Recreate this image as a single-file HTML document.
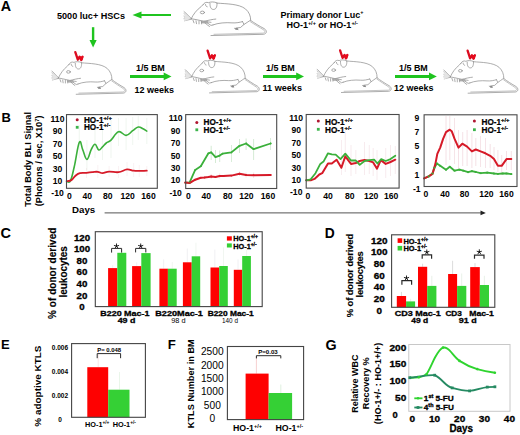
<!DOCTYPE html>
<html><head><meta charset="utf-8"><style>
html,body{margin:0;padding:0;background:#fff;}
svg{display:block;}
text{font-family:"Liberation Sans", sans-serif;}
</style></head><body>
<svg width="520" height="435" viewBox="0 0 520 435" font-family='"Liberation Sans", sans-serif'>
<rect width="520" height="435" fill="#fff"/>
<text x="0.8" y="10.9" font-size="14.3" font-weight="bold" text-anchor="start" fill="#000" >A</text>
<text x="57" y="18.9" font-size="9.1" font-weight="bold" text-anchor="start" fill="#000" textLength="68" lengthAdjust="spacingAndGlyphs" >5000 luc+ HSCs</text>
<line x1="171" y1="15" x2="139" y2="15" stroke="#1fc41f" stroke-width="2" />
<polygon points="132.5,15 141.5,11.5 141.5,18.5" fill="#1fc41f"/>
<line x1="93.1" y1="27.2" x2="93.1" y2="41.5" stroke="#1fc41f" stroke-width="2.4" />
<polygon points="93.1,47.6 89.5,40.0 96.7,40.0" fill="#1fc41f"/>
<text x="280.5" y="17.6" font-size="9" font-weight="bold" text-anchor="start" fill="#000" textLength="83" lengthAdjust="spacingAndGlyphs" >Primary donor Luc<tspan font-size="5.5" dy="-3.5">+</tspan></text>
<text x="286.4" y="28.3" font-size="9" font-weight="bold" text-anchor="start" fill="#000" >HO-1<tspan font-size="5.5" dy="-3.5">+/+</tspan><tspan dy="3.5"> or HO-1</tspan><tspan font-size="5.5" dy="-3.5">+/-</tspan></text>
<defs><g id="mouse">
<g fill="none" stroke="#8c8c8c" stroke-width="0.75" stroke-linecap="round" stroke-linejoin="round">
<path d="M0,11 L7,17.5 M0,13 L7,17.8 M0,15.5 L7,18 M0,18 L7,18.2 M0.5,20 L7,18.5 M1,12 L7,17.6 M0.5,17 L7,18" stroke="#b0b0b0" stroke-width="0.9"/>
<path d="M7.2,18 C9,14 13,9 17.2,6.2 L19,4.3"/>
<path d="M19,4.5 C20,2.2 22.5,1.6 24.5,2.4 C26.5,1.5 30,1.3 33,2.6"/>
<path d="M26,3.2 C25.8,6.5 27,9 29.5,9 C31.8,9 33.2,6.8 33,3.2"/>
<path d="M21.5,4.2 C21.5,5.5 22.2,6.2 23.2,6.4"/>
<path d="M33,2.8 C42,3.6 55,3.4 61.5,8.5 C65,11.5 66.7,15 66.7,19.5"/>
<ellipse cx="18.4" cy="11.9" rx="2.1" ry="1.3"/>
<path d="M7.2,18 L12,18.8 L20,20.5 L27,21.5 M20,20.5 C24,19.5 29,18.5 31.8,18.3"/>
<path d="M17.5,20.3 L23.5,20.6 L24,22.4 L18,22.2 Z" fill="#b0b0b0" stroke="#999" stroke-width="0.5"/>
<path d="M0.5,12 L7,17.6 L0.3,20.5 Z" fill="#e4e4e4" stroke="none"/>
<path d="M9,19.5 L10,22 M12,20 L12.5,22.8 M15,20.4 L15,23 M17.5,20.8 L17.6,23"/>
<path d="M21,22 C22.5,23.5 24,24.5 25.5,25.5 M24,22.5 L27,24.5 L29,24"/>
<path d="M29,24 C34,22 42,21.5 48,22 C52,22.3 56,21.5 58.5,20.8"/>
<path d="M58.5,20.8 L60,23.5 L56.5,26.5 L52,27 M50.5,27.3 L54,28.5"/>
<path d="M60,23.5 C62,22 64.5,21 66.4,19.5 C70,22 76,25.5 80.2,27.6 C83.2,29.4 83,32.6 79.5,33.1 L27,34.3"/>
<path d="M66.4,20.9 C70,23.2 75.5,26.4 79.3,28.6 C81.4,29.9 81.3,31.8 78.8,32.0 L30,33.1" stroke="#aaa"/>
</g>
<ellipse cx="52.7" cy="27.9" rx="1.6" ry="0.9" fill="#888"/>
</g></defs>
<use href="#mouse" transform="translate(184,0.2) scale(1,1.03)"/>
<use href="#mouse" transform="translate(51.9,60.0) scale(0.9,1)"/>
<use href="#mouse" transform="translate(185.2,58.6) scale(0.9,1)"/>
<use href="#mouse" transform="translate(317.1,58.2) scale(0.9,1)"/>
<use href="#mouse" transform="translate(443.8,58.9) scale(0.9,1)"/>
<polyline points="75.3,52.1 77.8,59.7 79.6,56.7 81.2,60.1 82.6,56.7" fill="none" stroke="#dc0c20" stroke-width="2.3" stroke-linejoin="round" stroke-linecap="round" />
<polygon points="79.2,56.5 82.9,56.3 82.6,60.3 80.6,60.1" fill="#e80a1c"/>
<polyline points="207.6,50.7 210.1,58.3 211.9,55.3 213.5,58.7 214.9,55.3" fill="none" stroke="#dc0c20" stroke-width="2.3" stroke-linejoin="round" stroke-linecap="round" />
<polygon points="211.5,55.1 215.20000000000002,54.9 214.9,58.900000000000006 212.9,58.7" fill="#e80a1c"/>
<polyline points="340.1,50.4 342.6,58.0 344.4,55.0 346.0,58.4 347.4,55.0" fill="none" stroke="#dc0c20" stroke-width="2.3" stroke-linejoin="round" stroke-linecap="round" />
<polygon points="344.0,54.8 347.7,54.599999999999994 347.40000000000003,58.599999999999994 345.40000000000003,58.4" fill="#e80a1c"/>
<polyline points="467.6,50.7 470.1,58.3 471.9,55.3 473.5,58.7 474.9,55.3" fill="none" stroke="#dc0c20" stroke-width="2.3" stroke-linejoin="round" stroke-linecap="round" />
<polygon points="471.5,55.1 475.2,54.9 474.90000000000003,58.900000000000006 472.90000000000003,58.7" fill="#e80a1c"/>
<line x1="130" y1="76.4" x2="164.5" y2="76.4" stroke="#1fc41f" stroke-width="3" />
<polygon points="171.5,76.4 163.7,72.60000000000001 163.7,80.2" fill="#1fc41f"/>
<text x="136" y="70.5" font-size="9.2" font-weight="bold" text-anchor="start" fill="#000" textLength="28.8" lengthAdjust="spacingAndGlyphs" >1/5 BM</text>
<text x="134.4" y="93.0" font-size="9.2" font-weight="bold" text-anchor="start" fill="#000" textLength="39.5" lengthAdjust="spacingAndGlyphs" >12 weeks</text>
<line x1="263" y1="76.4" x2="297" y2="76.4" stroke="#1fc41f" stroke-width="3" />
<polygon points="304,76.4 296.2,72.60000000000001 296.2,80.2" fill="#1fc41f"/>
<text x="266" y="70.5" font-size="9.2" font-weight="bold" text-anchor="start" fill="#000" textLength="28.8" lengthAdjust="spacingAndGlyphs" >1/5 BM</text>
<text x="262.5" y="91.4" font-size="9.2" font-weight="bold" text-anchor="start" fill="#000" textLength="39.5" lengthAdjust="spacingAndGlyphs" >11 weeks</text>
<line x1="395" y1="76.4" x2="429.8" y2="76.4" stroke="#1fc41f" stroke-width="3" />
<polygon points="436.8,76.4 429.0,72.60000000000001 429.0,80.2" fill="#1fc41f"/>
<text x="399" y="70.5" font-size="9.2" font-weight="bold" text-anchor="start" fill="#000" textLength="28.8" lengthAdjust="spacingAndGlyphs" >1/5 BM</text>
<text x="394" y="91.4" font-size="9.2" font-weight="bold" text-anchor="start" fill="#000" textLength="39.5" lengthAdjust="spacingAndGlyphs" >12 weeks</text>
<text x="1.5" y="121.9" font-size="13" font-weight="bold" text-anchor="start" fill="#000" >B</text>
<text transform="translate(31.0,206.8) rotate(-90)" x="0" y="0" font-size="9.2" font-weight="bold" text-anchor="start" fill="#000"  textLength="94.8" lengthAdjust="spacingAndGlyphs">Total Body BLI Signal</text>
<text transform="translate(42.2,206.2) rotate(-90)" x="0" y="0" font-size="9.2" font-weight="bold" text-anchor="start" fill="#000"  textLength="90.7" lengthAdjust="spacingAndGlyphs">(Photons / sec, X10<tspan font-size="5.8" dy="-3.2">7</tspan><tspan dy="3.2">)</tspan></text>
<text x="57.5" y="121.7" font-size="8.6" font-weight="bold" text-anchor="middle" fill="#000" >110</text>
<text x="57.5" y="134.15" font-size="8.6" font-weight="bold" text-anchor="middle" fill="#000" >90</text>
<text x="57.5" y="146.6" font-size="8.6" font-weight="bold" text-anchor="middle" fill="#000" >70</text>
<text x="57.5" y="159.05" font-size="8.6" font-weight="bold" text-anchor="middle" fill="#000" >50</text>
<text x="57.5" y="171.5" font-size="8.6" font-weight="bold" text-anchor="middle" fill="#000" >30</text>
<text x="57.5" y="183.95" font-size="8.6" font-weight="bold" text-anchor="middle" fill="#000" >10</text>
<text x="57.5" y="196.4" font-size="8.6" font-weight="bold" text-anchor="middle" fill="#000" >-10</text>
<text x="69.4" y="198.6" font-size="8.6" font-weight="bold" text-anchor="middle" fill="#000" >0</text>
<text x="87.2" y="198.6" font-size="8.6" font-weight="bold" text-anchor="middle" fill="#000" >40</text>
<text x="107.8" y="198.6" font-size="8.6" font-weight="bold" text-anchor="middle" fill="#000" >80</text>
<text x="127.7" y="198.6" font-size="8.6" font-weight="bold" text-anchor="middle" fill="#000" >120</text>
<text x="148.5" y="198.6" font-size="8.6" font-weight="bold" text-anchor="middle" fill="#000" >160</text>
<text x="175.6" y="121.2" font-size="8.6" font-weight="bold" text-anchor="middle" fill="#000" >110</text>
<text x="175.6" y="133.65" font-size="8.6" font-weight="bold" text-anchor="middle" fill="#000" >90</text>
<text x="175.6" y="146.1" font-size="8.6" font-weight="bold" text-anchor="middle" fill="#000" >70</text>
<text x="175.6" y="158.55" font-size="8.6" font-weight="bold" text-anchor="middle" fill="#000" >50</text>
<text x="175.6" y="171.0" font-size="8.6" font-weight="bold" text-anchor="middle" fill="#000" >30</text>
<text x="175.6" y="183.45" font-size="8.6" font-weight="bold" text-anchor="middle" fill="#000" >10</text>
<text x="175.6" y="195.9" font-size="8.6" font-weight="bold" text-anchor="middle" fill="#000" >-10</text>
<text x="188.4" y="198.6" font-size="8.6" font-weight="bold" text-anchor="middle" fill="#000" >0</text>
<text x="206.3" y="198.6" font-size="8.6" font-weight="bold" text-anchor="middle" fill="#000" >40</text>
<text x="227.8" y="198.6" font-size="8.6" font-weight="bold" text-anchor="middle" fill="#000" >80</text>
<text x="246.4" y="198.6" font-size="8.6" font-weight="bold" text-anchor="middle" fill="#000" >120</text>
<text x="268" y="198.6" font-size="8.6" font-weight="bold" text-anchor="middle" fill="#000" >160</text>
<text x="296.2" y="120.7" font-size="8.6" font-weight="bold" text-anchor="middle" fill="#000" >110</text>
<text x="296.2" y="133.15" font-size="8.6" font-weight="bold" text-anchor="middle" fill="#000" >90</text>
<text x="296.2" y="145.6" font-size="8.6" font-weight="bold" text-anchor="middle" fill="#000" >70</text>
<text x="296.2" y="158.05" font-size="8.6" font-weight="bold" text-anchor="middle" fill="#000" >50</text>
<text x="296.2" y="170.5" font-size="8.6" font-weight="bold" text-anchor="middle" fill="#000" >30</text>
<text x="296.2" y="182.95" font-size="8.6" font-weight="bold" text-anchor="middle" fill="#000" >10</text>
<text x="296.2" y="195.4" font-size="8.6" font-weight="bold" text-anchor="middle" fill="#000" >-10</text>
<text x="307.9" y="198.6" font-size="8.6" font-weight="bold" text-anchor="middle" fill="#000" >0</text>
<text x="328.1" y="198.6" font-size="8.6" font-weight="bold" text-anchor="middle" fill="#000" >40</text>
<text x="349.7" y="198.6" font-size="8.6" font-weight="bold" text-anchor="middle" fill="#000" >80</text>
<text x="371.2" y="198.6" font-size="8.6" font-weight="bold" text-anchor="middle" fill="#000" >120</text>
<text x="391.1" y="198.6" font-size="8.6" font-weight="bold" text-anchor="middle" fill="#000" >160</text>
<text x="416.8" y="120.7" font-size="8.6" font-weight="bold" text-anchor="middle" fill="#000" >9</text>
<text x="416.8" y="135.0" font-size="8.6" font-weight="bold" text-anchor="middle" fill="#000" >7</text>
<text x="416.8" y="149.3" font-size="8.6" font-weight="bold" text-anchor="middle" fill="#000" >5</text>
<text x="416.8" y="163.6" font-size="8.6" font-weight="bold" text-anchor="middle" fill="#000" >3</text>
<text x="416.8" y="177.9" font-size="8.6" font-weight="bold" text-anchor="middle" fill="#000" >1</text>
<text x="416.8" y="192.2" font-size="8.6" font-weight="bold" text-anchor="middle" fill="#000" >-1</text>
<text x="425.9" y="196.9" font-size="8.6" font-weight="bold" text-anchor="middle" fill="#000" >0</text>
<text x="445" y="196.9" font-size="8.6" font-weight="bold" text-anchor="middle" fill="#000" >40</text>
<text x="464.5" y="196.9" font-size="8.6" font-weight="bold" text-anchor="middle" fill="#000" >80</text>
<text x="486.4" y="196.9" font-size="8.6" font-weight="bold" text-anchor="middle" fill="#000" >120</text>
<text x="506.5" y="196.9" font-size="8.6" font-weight="bold" text-anchor="middle" fill="#000" >160</text>
<line x1="79.3" y1="125" x2="79.3" y2="158" stroke="#a0c8a0" stroke-width="0.8" opacity="0.19"/>
<line x1="86.9" y1="140" x2="86.9" y2="170" stroke="#a0c8a0" stroke-width="0.8" opacity="0.19"/>
<line x1="95" y1="128" x2="95" y2="158" stroke="#a0c8a0" stroke-width="0.8" opacity="0.19"/>
<line x1="102.5" y1="130" x2="102.5" y2="160" stroke="#a0c8a0" stroke-width="0.8" opacity="0.19"/>
<line x1="111" y1="120" x2="111" y2="158" stroke="#a0c8a0" stroke-width="0.8" opacity="0.19"/>
<line x1="118.5" y1="118" x2="118.5" y2="146" stroke="#a0c8a0" stroke-width="0.8" opacity="0.19"/>
<line x1="126.1" y1="118" x2="126.1" y2="150" stroke="#a0c8a0" stroke-width="0.8" opacity="0.19"/>
<line x1="132.7" y1="117" x2="132.7" y2="145" stroke="#a0c8a0" stroke-width="0.8" opacity="0.19"/>
<line x1="138.3" y1="116" x2="138.3" y2="140" stroke="#a0c8a0" stroke-width="0.8" opacity="0.19"/>
<line x1="146.8" y1="118" x2="146.8" y2="144" stroke="#a0c8a0" stroke-width="0.8" opacity="0.19"/>
<line x1="86.5" y1="168" x2="86.5" y2="178" stroke="#e0b0b8" stroke-width="0.8" opacity="0.19"/>
<line x1="97.8" y1="165" x2="97.8" y2="178" stroke="#e0b0b8" stroke-width="0.8" opacity="0.19"/>
<line x1="109.1" y1="166" x2="109.1" y2="177" stroke="#e0b0b8" stroke-width="0.8" opacity="0.19"/>
<line x1="118.5" y1="166" x2="118.5" y2="178" stroke="#e0b0b8" stroke-width="0.8" opacity="0.19"/>
<line x1="127" y1="162" x2="127" y2="176" stroke="#e0b0b8" stroke-width="0.8" opacity="0.19"/>
<line x1="133.6" y1="163" x2="133.6" y2="177" stroke="#e0b0b8" stroke-width="0.8" opacity="0.19"/>
<line x1="139.3" y1="165" x2="139.3" y2="177" stroke="#e0b0b8" stroke-width="0.8" opacity="0.19"/>
<line x1="146.8" y1="166" x2="146.8" y2="176" stroke="#e0b0b8" stroke-width="0.8" opacity="0.19"/>
<path d="M66.7,181.6 C67.5,181.4 69.0,183.7 70.5,180.7 C72.0,177.7 72.5,174.2 74.3,166.5 C76.1,158.8 77.6,145.8 79.3,142.4 C81.0,139.0 81.2,146.2 82.7,149.6 C84.2,153.0 85.2,159.4 86.9,159.4 C88.6,159.4 89.6,152.6 91.2,149.6 C92.8,146.6 93.5,144.2 95.0,144.3 C96.5,144.4 97.3,149.5 98.8,150.0 C100.3,150.5 101.0,148.2 102.5,146.8 C104.0,145.4 104.6,144.3 106.3,143.0 C108.0,141.7 108.6,142.5 111.0,140.2 C113.4,137.9 115.5,132.7 118.5,131.7 C121.5,130.7 123.3,135.6 126.1,135.4 C128.9,135.2 130.3,132.4 132.7,130.7 C135.1,129.0 136.2,127.4 138.3,127.0 C140.4,126.6 141.3,128.0 143.0,128.8 C144.7,129.6 146.0,130.6 146.8,131.1" fill="none" stroke="#3bb03b" stroke-width="1.6" stroke-linejoin="round" stroke-linecap="round" />
<path d="M66.7,181.2 C67.6,181.0 69.7,181.1 71.4,180.1 C73.1,179.1 73.5,177.4 75.2,176.0 C76.9,174.6 77.6,173.7 79.9,173.1 C82.2,172.5 84.0,173.0 86.5,172.8 C89.0,172.6 89.9,172.4 92.2,172.2 C94.5,172.0 95.7,171.6 97.8,171.8 C99.9,172.0 100.2,173.1 102.5,173.1 C104.8,173.1 105.9,171.8 109.1,171.6 C112.3,171.4 114.9,172.6 118.5,172.2 C122.1,171.8 124.0,169.7 127.0,169.4 C130.0,169.1 131.1,170.4 133.6,170.7 C136.1,171.0 136.7,170.9 139.3,170.9 C141.9,170.9 145.3,170.7 146.8,170.7" fill="none" stroke="#d61a28" stroke-width="1.8" stroke-linejoin="round" stroke-linecap="round" />
<line x1="211.2" y1="145.8" x2="211.2" y2="160" stroke="#88c888" stroke-width="0.8" opacity="0.44"/>
<line x1="215.5" y1="150" x2="215.5" y2="163" stroke="#88c888" stroke-width="0.8" opacity="0.44"/>
<line x1="219.7" y1="150.5" x2="219.7" y2="162" stroke="#88c888" stroke-width="0.8" opacity="0.44"/>
<line x1="231.4" y1="145" x2="231.4" y2="162" stroke="#88c888" stroke-width="0.8" opacity="0.44"/>
<line x1="239.5" y1="139" x2="239.5" y2="153" stroke="#88c888" stroke-width="0.8" opacity="0.44"/>
<line x1="246.1" y1="138.5" x2="246.1" y2="150" stroke="#88c888" stroke-width="0.8" opacity="0.44"/>
<line x1="253.6" y1="139" x2="253.6" y2="160" stroke="#88c888" stroke-width="0.8" opacity="0.44"/>
<line x1="270.6" y1="138" x2="270.6" y2="150" stroke="#88c888" stroke-width="0.8" opacity="0.44"/>
<line x1="211.2" y1="174" x2="211.2" y2="179" stroke="#e08080" stroke-width="0.8" opacity="0.28"/>
<line x1="219.7" y1="173.5" x2="219.7" y2="178.5" stroke="#e08080" stroke-width="0.8" opacity="0.28"/>
<line x1="239.5" y1="171.5" x2="239.5" y2="176" stroke="#e08080" stroke-width="0.8" opacity="0.28"/>
<line x1="246.1" y1="172.5" x2="246.1" y2="177.5" stroke="#e08080" stroke-width="0.8" opacity="0.28"/>
<line x1="253.6" y1="172.5" x2="253.6" y2="178" stroke="#e08080" stroke-width="0.8" opacity="0.28"/>
<polyline points="185.2,182.6 189.5,182.6 195.2,169.9 200.8,166.2 208.4,153.3 211.2,152.4 215.5,157.1 219.7,155.6 222.5,153.7 231.4,152.4 239.5,145.8 246.1,143.5 253.6,149.2 270.6,143.5" fill="none" stroke="#3bb03b" stroke-width="1.8" stroke-linejoin="round" stroke-linecap="round" />
<polyline points="185.2,182.6 189.5,183.1 195.2,179.7 200.8,177.8 204.6,177.5 208.4,177.1 211.2,176.5 215.5,176.9 219.7,176.0 223.5,176.0 231.4,175.6 239.5,173.7 246.1,175.0 253.6,175.2 270.6,175.0" fill="none" stroke="#d61a28" stroke-width="2.0" stroke-linejoin="round" stroke-linecap="round" />
<circle cx="189.5" cy="182.6" r="0.9" fill="#3bb03b"/>
<circle cx="195.2" cy="169.9" r="0.9" fill="#3bb03b"/>
<circle cx="200.8" cy="166.2" r="0.9" fill="#3bb03b"/>
<circle cx="208.4" cy="153.3" r="0.9" fill="#3bb03b"/>
<circle cx="211.2" cy="152.4" r="0.9" fill="#3bb03b"/>
<circle cx="215.5" cy="157.1" r="0.9" fill="#3bb03b"/>
<circle cx="219.7" cy="155.6" r="0.9" fill="#3bb03b"/>
<circle cx="222.5" cy="153.7" r="0.9" fill="#3bb03b"/>
<circle cx="231.4" cy="152.4" r="0.9" fill="#3bb03b"/>
<circle cx="239.5" cy="145.8" r="0.9" fill="#3bb03b"/>
<circle cx="246.1" cy="143.5" r="0.9" fill="#3bb03b"/>
<circle cx="253.6" cy="149.2" r="0.9" fill="#3bb03b"/>
<circle cx="270.6" cy="143.5" r="0.9" fill="#3bb03b"/>
<circle cx="189.5" cy="183.1" r="0.9" fill="#d61a28"/>
<circle cx="195.2" cy="179.7" r="0.9" fill="#d61a28"/>
<circle cx="200.8" cy="177.8" r="0.9" fill="#d61a28"/>
<circle cx="204.6" cy="177.5" r="0.9" fill="#d61a28"/>
<circle cx="208.4" cy="177.1" r="0.9" fill="#d61a28"/>
<circle cx="211.2" cy="176.5" r="0.9" fill="#d61a28"/>
<circle cx="215.5" cy="176.9" r="0.9" fill="#d61a28"/>
<circle cx="219.7" cy="176" r="0.9" fill="#d61a28"/>
<circle cx="223.5" cy="176" r="0.9" fill="#d61a28"/>
<circle cx="231.4" cy="175.6" r="0.9" fill="#d61a28"/>
<circle cx="239.5" cy="173.7" r="0.9" fill="#d61a28"/>
<circle cx="246.1" cy="175" r="0.9" fill="#d61a28"/>
<circle cx="253.6" cy="175.2" r="0.9" fill="#d61a28"/>
<circle cx="270.6" cy="175" r="0.9" fill="#d61a28"/>
<line x1="341.4" y1="140" x2="341.4" y2="175" stroke="#e0a8b8" stroke-width="0.8" opacity="0.28"/>
<line x1="345.3" y1="130" x2="345.3" y2="172" stroke="#e0a8b8" stroke-width="0.8" opacity="0.28"/>
<line x1="351" y1="145" x2="351" y2="176" stroke="#e0a8b8" stroke-width="0.8" opacity="0.28"/>
<line x1="355.8" y1="150" x2="355.8" y2="174" stroke="#e0a8b8" stroke-width="0.8" opacity="0.28"/>
<line x1="364.5" y1="142" x2="364.5" y2="175" stroke="#e0a8b8" stroke-width="0.8" opacity="0.28"/>
<line x1="369.3" y1="145" x2="369.3" y2="174" stroke="#e0a8b8" stroke-width="0.8" opacity="0.28"/>
<line x1="373.2" y1="148" x2="373.2" y2="176" stroke="#e0a8b8" stroke-width="0.8" opacity="0.28"/>
<line x1="377" y1="150" x2="377" y2="180" stroke="#e0a8b8" stroke-width="0.8" opacity="0.28"/>
<line x1="385.7" y1="148" x2="385.7" y2="178" stroke="#e0a8b8" stroke-width="0.8" opacity="0.28"/>
<line x1="390.5" y1="145" x2="390.5" y2="176" stroke="#e0a8b8" stroke-width="0.8" opacity="0.28"/>
<line x1="395.3" y1="146" x2="395.3" y2="174" stroke="#e0a8b8" stroke-width="0.8" opacity="0.28"/>
<polyline points="306.2,180.3 310.7,180.3 314.5,178.9 319.3,174.5 322.2,173.2 328.0,163.5 331.8,163.5 336.6,159.7 341.4,167.8 345.3,156.3 351.0,163.9 355.8,163.0 359.7,161.0 364.5,160.1 369.3,161.0 373.2,162.4 377.0,168.7 380.8,160.1 385.7,163.9 390.5,162.0 395.3,159.7" fill="none" stroke="#d61a28" stroke-width="2.0" stroke-linejoin="round" stroke-linecap="round" />
<polyline points="306.2,180.3 310.7,179.3 315.5,173.2 320.3,163.9 323.5,161.6 328.0,153.3 331.8,154.3 335.7,154.7 340.5,159.1 345.3,153.6 351.0,160.5 355.8,160.5 359.7,164.9 364.5,161.0 369.3,160.1 374.1,159.7 377.4,163.5 381.2,159.1 385.7,161.0 390.5,159.1 395.3,155.8" fill="none" stroke="#3bb03b" stroke-width="1.8" stroke-linejoin="round" stroke-linecap="round" />
<line x1="446" y1="116" x2="446" y2="165" stroke="#e0a0b0" stroke-width="0.8" opacity="0.39"/>
<line x1="449.8" y1="116" x2="449.8" y2="160" stroke="#e0a0b0" stroke-width="0.8" opacity="0.39"/>
<line x1="454.6" y1="118" x2="454.6" y2="164" stroke="#e0a0b0" stroke-width="0.8" opacity="0.39"/>
<line x1="458.5" y1="130" x2="458.5" y2="170" stroke="#e0a0b0" stroke-width="0.8" opacity="0.39"/>
<line x1="462.7" y1="132" x2="462.7" y2="166" stroke="#e0a0b0" stroke-width="0.8" opacity="0.39"/>
<line x1="467.1" y1="130" x2="467.1" y2="166" stroke="#e0a0b0" stroke-width="0.8" opacity="0.39"/>
<line x1="471.9" y1="133" x2="471.9" y2="168" stroke="#e0a0b0" stroke-width="0.8" opacity="0.39"/>
<line x1="475.8" y1="138" x2="475.8" y2="166" stroke="#e0a0b0" stroke-width="0.8" opacity="0.39"/>
<line x1="480.6" y1="136" x2="480.6" y2="167" stroke="#e0a0b0" stroke-width="0.8" opacity="0.39"/>
<line x1="485.4" y1="138" x2="485.4" y2="168" stroke="#e0a0b0" stroke-width="0.8" opacity="0.39"/>
<line x1="490.2" y1="144" x2="490.2" y2="168" stroke="#e0a0b0" stroke-width="0.8" opacity="0.39"/>
<line x1="494" y1="147" x2="494" y2="170" stroke="#e0a0b0" stroke-width="0.8" opacity="0.39"/>
<line x1="497.9" y1="150" x2="497.9" y2="172" stroke="#e0a0b0" stroke-width="0.8" opacity="0.39"/>
<line x1="501.7" y1="155" x2="501.7" y2="175" stroke="#e0a0b0" stroke-width="0.8" opacity="0.39"/>
<line x1="506.5" y1="151" x2="506.5" y2="170" stroke="#e0a0b0" stroke-width="0.8" opacity="0.39"/>
<line x1="511.3" y1="151" x2="511.3" y2="170" stroke="#e0a0b0" stroke-width="0.8" opacity="0.39"/>
<polyline points="424.2,178.3 428.7,176.4 432.5,173.5 434.4,167.8 436.9,163.5 440.2,165.8 446.0,169.7 449.8,166.8 454.6,170.7 459.4,169.7 463.3,170.7 468.1,172.2 471.9,171.2 475.8,172.0 480.6,173.2 487.3,172.6 494.0,173.5 497.9,173.9 502.7,173.5 506.5,173.5 511.3,174.1" fill="none" stroke="#3bb03b" stroke-width="1.8" stroke-linejoin="round" stroke-linecap="round" />
<polyline points="424.2,178.3 428.7,176.4 432.5,173.9 435.4,163.9 437.3,153.9 440.2,147.6 443.1,138.9 446.0,132.2 449.8,129.7 451.7,131.2 454.6,138.9 458.5,147.6 462.3,143.7 467.1,146.6 471.9,151.4 475.8,149.5 480.6,151.4 485.4,153.3 490.2,155.8 494.0,159.1 497.9,165.8 501.7,165.8 506.5,159.1 511.3,159.1" fill="none" stroke="#d61a28" stroke-width="2.0" stroke-linejoin="round" stroke-linecap="round" />
<rect x="427.8" y="175.5" width="1.8" height="1.8" fill="#3bb03b"/>
<rect x="431.6" y="172.6" width="1.8" height="1.8" fill="#3bb03b"/>
<rect x="433.5" y="166.9" width="1.8" height="1.8" fill="#3bb03b"/>
<rect x="436.0" y="162.6" width="1.8" height="1.8" fill="#3bb03b"/>
<rect x="439.3" y="164.9" width="1.8" height="1.8" fill="#3bb03b"/>
<rect x="445.1" y="168.79999999999998" width="1.8" height="1.8" fill="#3bb03b"/>
<rect x="448.90000000000003" y="165.9" width="1.8" height="1.8" fill="#3bb03b"/>
<rect x="453.70000000000005" y="169.79999999999998" width="1.8" height="1.8" fill="#3bb03b"/>
<rect x="458.5" y="168.79999999999998" width="1.8" height="1.8" fill="#3bb03b"/>
<rect x="462.40000000000003" y="169.79999999999998" width="1.8" height="1.8" fill="#3bb03b"/>
<rect x="467.20000000000005" y="171.29999999999998" width="1.8" height="1.8" fill="#3bb03b"/>
<rect x="471.0" y="170.29999999999998" width="1.8" height="1.8" fill="#3bb03b"/>
<rect x="474.90000000000003" y="171.1" width="1.8" height="1.8" fill="#3bb03b"/>
<rect x="479.70000000000005" y="172.29999999999998" width="1.8" height="1.8" fill="#3bb03b"/>
<rect x="486.40000000000003" y="171.7" width="1.8" height="1.8" fill="#3bb03b"/>
<rect x="493.1" y="172.6" width="1.8" height="1.8" fill="#3bb03b"/>
<rect x="497.0" y="173.0" width="1.8" height="1.8" fill="#3bb03b"/>
<rect x="501.8" y="172.6" width="1.8" height="1.8" fill="#3bb03b"/>
<rect x="505.6" y="172.6" width="1.8" height="1.8" fill="#3bb03b"/>
<rect x="510.40000000000003" y="173.2" width="1.8" height="1.8" fill="#3bb03b"/>
<rect x="66.5" y="114.6" width="90.80000000000001" height="73.70000000000002" fill="none" stroke="#4a4a4a" stroke-width="1.1"/>
<circle cx="77.2" cy="119.7" r="1.5" fill="#b01530"/>
<rect x="75.8" y="125.89999999999999" width="2.8" height="2.8" fill="#3cb44c" />
<text x="83.9" y="122.6" font-size="8.2" font-weight="bold" text-anchor="start" fill="#000" stroke="#000" stroke-width="0.2">HO-1<tspan font-size="5.8" dy="-3.0">+/+</tspan></text>
<text x="83.9" y="129.8" font-size="8.2" font-weight="bold" text-anchor="start" fill="#000" stroke="#000" stroke-width="0.2">HO-1<tspan font-size="5.8" dy="-3.0">+/-</tspan></text>
<rect x="185.7" y="114.6" width="91.0" height="73.9" fill="none" stroke="#4a4a4a" stroke-width="1.1"/>
<circle cx="196.8" cy="122.4" r="1.5" fill="#b01530"/>
<rect x="195.4" y="128.4" width="2.8" height="2.8" fill="#3cb44c" />
<text x="203.5" y="125.0" font-size="8.2" font-weight="bold" text-anchor="start" fill="#000" stroke="#000" stroke-width="0.2">HO-1<tspan font-size="5.8" dy="-3.0">+/+</tspan></text>
<text x="203.5" y="132.7" font-size="8.2" font-weight="bold" text-anchor="start" fill="#000" stroke="#000" stroke-width="0.2">HO-1<tspan font-size="5.8" dy="-3.0">+/-</tspan></text>
<rect x="306.2" y="114.5" width="92.90000000000003" height="73.6" fill="none" stroke="#4a4a4a" stroke-width="1.1"/>
<circle cx="318.3" cy="121.1" r="1.5" fill="#b01530"/>
<rect x="316.90000000000003" y="127.9" width="2.8" height="2.8" fill="#3cb44c" />
<text x="325.0" y="125.0" font-size="8.2" font-weight="bold" text-anchor="start" fill="#000" stroke="#000" stroke-width="0.2">HO-1<tspan font-size="5.8" dy="-3.0">+/+</tspan></text>
<text x="325.0" y="132.7" font-size="8.2" font-weight="bold" text-anchor="start" fill="#000" stroke="#000" stroke-width="0.2">HO-1<tspan font-size="5.8" dy="-3.0">+/-</tspan></text>
<rect x="424.1" y="114.8" width="92.89999999999998" height="71.7" fill="none" stroke="#4a4a4a" stroke-width="1.1"/>
<circle cx="474.4" cy="121.0" r="1.5" fill="#b01530"/>
<rect x="473.0" y="128.29999999999998" width="2.8" height="2.8" fill="#3cb44c" />
<text x="481.5" y="124.8" font-size="8.2" font-weight="bold" text-anchor="start" fill="#000" stroke="#000" stroke-width="0.2">HO-1<tspan font-size="5.8" dy="-3.0">+/+</tspan></text>
<text x="481.5" y="132.6" font-size="8.2" font-weight="bold" text-anchor="start" fill="#000" stroke="#000" stroke-width="0.2">HO-1<tspan font-size="5.8" dy="-3.0">+/-</tspan></text>
<text x="72" y="212.5" font-size="9.5" font-weight="bold" text-anchor="start" fill="#000" textLength="23.2" lengthAdjust="spacingAndGlyphs" >Days</text>
<line x1="104.6" y1="212.9" x2="481.5" y2="212.9" stroke="#555" stroke-width="1" />
<polygon points="485.8,212.9 480.5,210.6 480.5,215.2" fill="#222"/>
<text x="0.4" y="238.4" font-size="14.5" font-weight="bold" text-anchor="start" fill="#000" >C</text>
<text transform="translate(56.0,273.3) rotate(-90)" x="0" y="0" font-size="10.0" font-weight="bold" text-anchor="middle" fill="#000" stroke="#000" stroke-width="0.15" textLength="91.5" lengthAdjust="spacing">% of donor derived</text>
<text transform="translate(67.3,271.8) rotate(-90)" x="0" y="0" font-size="10.0" font-weight="bold" text-anchor="middle" fill="#000" stroke="#000" stroke-width="0.15" textLength="51.3" lengthAdjust="spacing">leukocytes</text>
<text x="82.0" y="240.55" font-size="8.2" font-weight="bold" text-anchor="middle" fill="#000" textLength="16.200000000000003" lengthAdjust="spacingAndGlyphs" stroke="#000" stroke-width="0.3">120</text>
<text x="82.0" y="252.18" font-size="8.2" font-weight="bold" text-anchor="middle" fill="#000" textLength="16.200000000000003" lengthAdjust="spacingAndGlyphs" stroke="#000" stroke-width="0.3">100</text>
<text x="82.0" y="263.81" font-size="8.2" font-weight="bold" text-anchor="middle" fill="#000" textLength="10.8" lengthAdjust="spacingAndGlyphs" stroke="#000" stroke-width="0.3">80</text>
<text x="82.0" y="275.44" font-size="8.2" font-weight="bold" text-anchor="middle" fill="#000" textLength="10.8" lengthAdjust="spacingAndGlyphs" stroke="#000" stroke-width="0.3">60</text>
<text x="82.0" y="287.07" font-size="8.2" font-weight="bold" text-anchor="middle" fill="#000" textLength="10.8" lengthAdjust="spacingAndGlyphs" stroke="#000" stroke-width="0.3">40</text>
<text x="82.0" y="298.7" font-size="8.2" font-weight="bold" text-anchor="middle" fill="#000" textLength="10.8" lengthAdjust="spacingAndGlyphs" stroke="#000" stroke-width="0.3">20</text>
<text x="82.0" y="310.33" font-size="8.2" font-weight="bold" text-anchor="middle" fill="#000" textLength="5.4" lengthAdjust="spacingAndGlyphs" stroke="#000" stroke-width="0.3">0</text>
<line x1="112.69999999999999" y1="265.2" x2="112.69999999999999" y2="268.1" stroke="#ececf0" stroke-width="0.8" />
<rect x="108.1" y="268.1" width="9.200000000000003" height="38.39999999999998" fill="#fe0101" />
<line x1="121.8" y1="250" x2="121.8" y2="252.8" stroke="#eef4ee" stroke-width="0.8" />
<rect x="117.3" y="252.8" width="9.0" height="53.69999999999999" fill="#35d035" />
<line x1="136.7" y1="262.3" x2="136.7" y2="266.1" stroke="#ececf0" stroke-width="0.8" />
<rect x="132.1" y="266.1" width="9.200000000000017" height="40.39999999999998" fill="#fe0101" />
<line x1="145.95" y1="250" x2="145.95" y2="253.1" stroke="#eef4ee" stroke-width="0.8" />
<rect x="141.3" y="253.1" width="9.299999999999983" height="53.400000000000006" fill="#35d035" />
<line x1="163.65" y1="259.4" x2="163.65" y2="268.7" stroke="#ececf0" stroke-width="0.8" />
<rect x="159.4" y="268.7" width="8.5" height="37.80000000000001" fill="#fe0101" />
<line x1="172.3" y1="262" x2="172.3" y2="268.7" stroke="#eef4ee" stroke-width="0.8" />
<rect x="167.9" y="268.7" width="8.799999999999983" height="37.80000000000001" fill="#35d035" />
<line x1="187.3" y1="248.5" x2="187.3" y2="262.3" stroke="#ececf0" stroke-width="0.8" />
<rect x="182.9" y="262.3" width="8.799999999999983" height="44.19999999999999" fill="#fe0101" />
<line x1="195.95" y1="242.7" x2="195.95" y2="256.3" stroke="#eef4ee" stroke-width="0.8" />
<rect x="191.7" y="256.3" width="8.5" height="50.19999999999999" fill="#35d035" />
<line x1="214.85" y1="249.6" x2="214.85" y2="267.5" stroke="#ececf0" stroke-width="0.8" />
<rect x="210.5" y="267.5" width="8.699999999999989" height="39.0" fill="#fe0101" />
<line x1="223.5" y1="247.3" x2="223.5" y2="266" stroke="#eef4ee" stroke-width="0.8" />
<rect x="219.2" y="266" width="8.600000000000023" height="40.5" fill="#35d035" />
<line x1="238.0" y1="259.4" x2="238.0" y2="269.8" stroke="#ececf0" stroke-width="0.8" />
<rect x="233.8" y="269.8" width="8.399999999999977" height="36.69999999999999" fill="#fe0101" />
<line x1="246.55" y1="250" x2="246.55" y2="256" stroke="#eef4ee" stroke-width="0.8" />
<rect x="242.2" y="256" width="8.700000000000017" height="50.5" fill="#35d035" />
<rect x="95.3" y="231.7" width="166.89999999999998" height="74.90000000000003" fill="none" stroke="#444" stroke-width="1.1"/>
<polyline points="111.6,252.6 111.6,248.4 121.6,248.4 121.6,252.6" fill="none" stroke="#2a2a2a" stroke-width="1.0"/>
<polyline points="135.6,252.4 135.6,248.4 145.8,248.4 145.8,252.4" fill="none" stroke="#2a2a2a" stroke-width="1.0"/>
<path d="M116.50,246.20 L116.50,243.90 M116.50,246.20 L118.69,245.49 M116.50,246.20 L114.31,245.49 M116.50,246.20 L115.15,248.06 M116.50,246.20 L117.85,248.06 " stroke="#111" stroke-width="0.9" stroke-linecap="round" fill="none"/>
<circle cx="116.5" cy="246.2" r="0.8" fill="#111"/>
<path d="M140.70,246.20 L140.70,243.90 M140.70,246.20 L142.89,245.49 M140.70,246.20 L138.51,245.49 M140.70,246.20 L139.35,248.06 M140.70,246.20 L142.05,248.06 " stroke="#111" stroke-width="0.9" stroke-linecap="round" fill="none"/>
<circle cx="140.7" cy="246.2" r="0.8" fill="#111"/>
<rect x="226.9" y="236.3" width="4.9" height="4.3" fill="#fe0101" />
<rect x="226.9" y="243.4" width="4.9" height="4.1" fill="#35d035" />
<text x="233.3" y="241.0" font-size="7.3" font-weight="bold" text-anchor="start" fill="#000" stroke="#000" stroke-width="0.3">HO-1<tspan font-size="4.9" dy="-3">+/+</tspan></text>
<text x="233.3" y="249.0" font-size="7.3" font-weight="bold" text-anchor="start" fill="#000" stroke="#000" stroke-width="0.3">HO-1<tspan font-size="4.9" dy="-3">+/-</tspan></text>
<text x="124.85" y="316.4" font-size="7.3" font-weight="bold" text-anchor="middle" fill="#000" textLength="49" lengthAdjust="spacingAndGlyphs" stroke="#000" stroke-width="0.3">B220 Mac-1</text>
<text x="126.5" y="323.4" font-size="7.3" font-weight="bold" text-anchor="middle" fill="#000" textLength="17.7" lengthAdjust="spacingAndGlyphs" stroke="#000" stroke-width="0.3">49 d</text>
<text x="179.1" y="316.4" font-size="7.3" font-weight="bold" text-anchor="middle" fill="#000" textLength="47.6" lengthAdjust="spacingAndGlyphs" stroke="#000" stroke-width="0.3">B220Mac-1</text>
<text x="178.4" y="323.4" font-size="7.0" font-weight="normal" text-anchor="middle" fill="#000" textLength="14.3" lengthAdjust="spacingAndGlyphs" >98 d</text>
<text x="230.7" y="316.4" font-size="7.3" font-weight="bold" text-anchor="middle" fill="#000" textLength="46" lengthAdjust="spacingAndGlyphs" stroke="#000" stroke-width="0.3">B220 Mac-1</text>
<text x="230.0" y="323.4" font-size="7.0" font-weight="normal" text-anchor="middle" fill="#000" textLength="15.9" lengthAdjust="spacingAndGlyphs" >140 d</text>
<text x="324.8" y="237.6" font-size="13.8" font-weight="bold" text-anchor="start" fill="#000" >D</text>
<text transform="translate(353.0,275.5) rotate(-90)" x="0" y="0" font-size="9.4" font-weight="bold" text-anchor="middle" fill="#000" stroke="#000" stroke-width="0.15" textLength="83.5" lengthAdjust="spacing">% of donor derived</text>
<text transform="translate(363.4,274.3) rotate(-90)" x="0" y="0" font-size="9.4" font-weight="bold" text-anchor="middle" fill="#000" stroke="#000" stroke-width="0.15" textLength="46.2" lengthAdjust="spacing">leukocytes</text>
<text x="379.3" y="243.8" font-size="8.2" font-weight="bold" text-anchor="middle" fill="#000" textLength="16.5" lengthAdjust="spacingAndGlyphs" stroke="#000" stroke-width="0.3">120</text>
<text x="379.3" y="255.42" font-size="8.2" font-weight="bold" text-anchor="middle" fill="#000" textLength="16.5" lengthAdjust="spacingAndGlyphs" stroke="#000" stroke-width="0.3">100</text>
<text x="379.3" y="267.04" font-size="8.2" font-weight="bold" text-anchor="middle" fill="#000" textLength="11.0" lengthAdjust="spacingAndGlyphs" stroke="#000" stroke-width="0.3">80</text>
<text x="379.3" y="278.66" font-size="8.2" font-weight="bold" text-anchor="middle" fill="#000" textLength="11.0" lengthAdjust="spacingAndGlyphs" stroke="#000" stroke-width="0.3">60</text>
<text x="379.3" y="290.28" font-size="8.2" font-weight="bold" text-anchor="middle" fill="#000" textLength="11.0" lengthAdjust="spacingAndGlyphs" stroke="#000" stroke-width="0.3">40</text>
<text x="379.3" y="301.9" font-size="8.2" font-weight="bold" text-anchor="middle" fill="#000" textLength="11.0" lengthAdjust="spacingAndGlyphs" stroke="#000" stroke-width="0.3">20</text>
<text x="379.3" y="313.52" font-size="8.2" font-weight="bold" text-anchor="middle" fill="#000" textLength="5.5" lengthAdjust="spacingAndGlyphs" stroke="#000" stroke-width="0.3">0</text>
<line x1="401.45000000000005" y1="291.9" x2="401.45000000000005" y2="296.0" stroke="#d2d2d2" stroke-width="0.8" />
<rect x="396.8" y="296.0" width="9.300000000000011" height="11.199999999999989" fill="#fe0101" />
<line x1="410.6" y1="298.8" x2="410.6" y2="301.4" stroke="#e2eee2" stroke-width="0.8" />
<rect x="406.1" y="301.4" width="9.0" height="5.800000000000011" fill="#35d035" />
<line x1="422.6" y1="263.7" x2="422.6" y2="266.8" stroke="#d2d2d2" stroke-width="0.8" />
<rect x="418.0" y="266.8" width="9.199999999999989" height="40.39999999999998" fill="#fe0101" />
<line x1="431.79999999999995" y1="275.8" x2="431.79999999999995" y2="285.9" stroke="#e2eee2" stroke-width="0.8" />
<rect x="427.2" y="285.9" width="9.199999999999989" height="21.30000000000001" fill="#35d035" />
<line x1="452.6" y1="260.8" x2="452.6" y2="274" stroke="#d2d2d2" stroke-width="0.8" />
<rect x="448.1" y="274" width="9.0" height="33.19999999999999" fill="#fe0101" />
<line x1="461.70000000000005" y1="273.5" x2="461.70000000000005" y2="285.9" stroke="#e2eee2" stroke-width="0.8" />
<rect x="457.1" y="285.9" width="9.199999999999989" height="21.30000000000001" fill="#35d035" />
<line x1="475.0" y1="263.1" x2="475.0" y2="267.1" stroke="#d2d2d2" stroke-width="0.8" />
<rect x="470.2" y="267.1" width="9.600000000000023" height="40.099999999999966" fill="#fe0101" />
<line x1="484.4" y1="275.8" x2="484.4" y2="285.0" stroke="#e2eee2" stroke-width="0.8" />
<rect x="479.8" y="285.0" width="9.199999999999989" height="22.19999999999999" fill="#35d035" />
<rect x="391.6" y="234.8" width="103.19999999999999" height="72.5" fill="none" stroke="#444" stroke-width="1.1"/>
<polyline points="401.9,284.7 401.9,280.6 411.6,280.6 411.6,284.7" fill="none" stroke="#2a2a2a" stroke-width="1.2"/>
<polyline points="422.2,258.7 422.2,254.8 431.6,254.8 431.6,258.7" fill="none" stroke="#2a2a2a" stroke-width="1.2"/>
<polyline points="474.5,258.7 474.5,255.1 484.0,255.1 484.0,258.7" fill="none" stroke="#2a2a2a" stroke-width="1.2"/>
<path d="M406.50,278.20 L406.50,275.90 M406.50,278.20 L408.69,277.49 M406.50,278.20 L404.31,277.49 M406.50,278.20 L405.15,280.06 M406.50,278.20 L407.85,280.06 " stroke="#111" stroke-width="0.9" stroke-linecap="round" fill="none"/>
<circle cx="406.5" cy="278.2" r="0.8" fill="#111"/>
<path d="M426.80,252.20 L426.80,249.90 M426.80,252.20 L428.99,251.49 M426.80,252.20 L424.61,251.49 M426.80,252.20 L425.45,254.06 M426.80,252.20 L428.15,254.06 " stroke="#111" stroke-width="0.9" stroke-linecap="round" fill="none"/>
<circle cx="426.8" cy="252.2" r="0.8" fill="#111"/>
<path d="M479.30,252.00 L479.30,249.70 M479.30,252.00 L481.49,251.29 M479.30,252.00 L477.11,251.29 M479.30,252.00 L477.95,253.86 M479.30,252.00 L480.65,253.86 " stroke="#111" stroke-width="0.9" stroke-linecap="round" fill="none"/>
<circle cx="479.3" cy="252.0" r="0.8" fill="#111"/>
<rect x="397.6" y="238.3" width="4.6" height="4.6" fill="#fe0101" />
<rect x="397.6" y="245.9" width="4.6" height="4.6" fill="#35d035" />
<text x="403.4" y="243.6" font-size="7.4" font-weight="bold" text-anchor="start" fill="#000" stroke="#000" stroke-width="0.3">HO-1<tspan font-size="4.9" dy="-2.8">+/+</tspan></text>
<text x="403.4" y="251.2" font-size="7.4" font-weight="bold" text-anchor="start" fill="#000" stroke="#000" stroke-width="0.3">HO-1<tspan font-size="4.9" dy="-2.8">+/-</tspan></text>
<text x="417.75" y="315.7" font-size="7.4" font-weight="bold" text-anchor="middle" fill="#000" textLength="46.1" lengthAdjust="spacingAndGlyphs" stroke="#000" stroke-width="0.3">CD3 Mac-1</text>
<text x="419.65" y="323.2" font-size="7.4" font-weight="bold" text-anchor="middle" fill="#000" textLength="16.9" lengthAdjust="spacingAndGlyphs" stroke="#000" stroke-width="0.3">49 d</text>
<text x="453.65" y="315.7" font-size="7.4" font-weight="bold" text-anchor="middle" fill="#000" textLength="16.5" lengthAdjust="spacingAndGlyphs" stroke="#000" stroke-width="0.3">CD3</text>
<text x="481.5" y="315.7" font-size="7.4" font-weight="bold" text-anchor="middle" fill="#000" textLength="24.4" lengthAdjust="spacingAndGlyphs" stroke="#000" stroke-width="0.3">Mac-1</text>
<text x="467.75" y="323.2" font-size="7.4" font-weight="bold" text-anchor="middle" fill="#000" textLength="17.9" lengthAdjust="spacingAndGlyphs" stroke="#000" stroke-width="0.3">91 d</text>
<text x="1.0" y="349.0" font-size="13" font-weight="bold" text-anchor="start" fill="#000" >E</text>
<text transform="translate(40.8,386.1) rotate(-90)" x="0" y="0" font-size="9.7" font-weight="bold" text-anchor="middle" fill="#000"  textLength="81.1" lengthAdjust="spacingAndGlyphs">% adoptive KTLS</text>
<text x="68.1" y="349.9" font-size="6.5" font-weight="bold" text-anchor="end" fill="#000" textLength="16.3" lengthAdjust="spacingAndGlyphs" >0.006</text>
<text x="68.1" y="373.7" font-size="6.5" font-weight="bold" text-anchor="end" fill="#000" textLength="16.3" lengthAdjust="spacingAndGlyphs" >0.004</text>
<text x="68.1" y="398.2" font-size="6.5" font-weight="bold" text-anchor="end" fill="#000" textLength="16.3" lengthAdjust="spacingAndGlyphs" >0.002</text>
<text x="58.2" y="422.2" font-size="6.5" font-weight="bold" text-anchor="start" fill="#000" >0</text>
<line x1="98.2" y1="350" x2="98.2" y2="367.2" stroke="#f8dede" stroke-width="0.8" />
<line x1="119.5" y1="372" x2="119.5" y2="389.7" stroke="#e4f4e4" stroke-width="0.8" />
<rect x="87.3" y="367.2" width="20.9" height="50.0" fill="#fe0101" />
<rect x="108.2" y="389.7" width="21.3" height="27.5" fill="#35d035" />
<rect x="71.6" y="343.6" width="73.80000000000001" height="73.69999999999999" fill="none" stroke="#444" stroke-width="1.1"/>
<polyline points="97.2,358.2 97.2,353.6 120.6,353.6 120.6,358.2" fill="none" stroke="#2a2a2a" stroke-width="1.0"/>
<text x="109.2" y="352.0" font-size="5.6" font-weight="bold" text-anchor="middle" fill="#000" textLength="24" lengthAdjust="spacingAndGlyphs" >P= 0.048</text>
<text x="85.0" y="427.2" font-size="7.3" font-weight="bold" text-anchor="start" fill="#000" >HO-1<tspan font-size="4.8" dy="-2.9">+/+</tspan></text>
<text x="112.7" y="427.2" font-size="7.3" font-weight="bold" text-anchor="start" fill="#000" >HO-1<tspan font-size="4.8" dy="-2.9">+/-</tspan></text>
<text x="167.8" y="348.7" font-size="13.2" font-weight="bold" text-anchor="start" fill="#000" >F</text>
<text transform="translate(193.8,383.7) rotate(-90)" x="0" y="0" font-size="9.2" font-weight="bold" text-anchor="middle" fill="#000"  textLength="88.9" lengthAdjust="spacingAndGlyphs">KTLS Number in BM</text>
<text x="212.3" y="355.3" font-size="10.2" font-weight="normal" text-anchor="middle" fill="#000" >2500</text>
<text x="212.3" y="369.0" font-size="10.2" font-weight="normal" text-anchor="middle" fill="#000" >2000</text>
<text x="212.3" y="382.2" font-size="10.2" font-weight="normal" text-anchor="middle" fill="#000" >1500</text>
<text x="212.3" y="395.4" font-size="10.2" font-weight="normal" text-anchor="middle" fill="#000" >1000</text>
<text x="212.3" y="408.7" font-size="10.2" font-weight="normal" text-anchor="middle" fill="#000" >500</text>
<text x="212.3" y="421.9" font-size="10.2" font-weight="normal" text-anchor="middle" fill="#000" >0</text>
<line x1="256.4" y1="356.8" x2="256.4" y2="373.6" stroke="#f4c4c4" stroke-width="0.8" />
<line x1="280.8" y1="384.5" x2="280.8" y2="393" stroke="#d8eed8" stroke-width="0.8" />
<rect x="245.6" y="373.6" width="23.0" height="46.0" fill="#fe0101" />
<rect x="268.6" y="393.0" width="23.5" height="26.600000000000023" fill="#35d035" />
<rect x="227.4" y="346.5" width="76.20000000000002" height="73.10000000000002" fill="none" stroke="#444" stroke-width="1.1"/>
<polyline points="256.4,358.4 256.4,355.7 280.8,355.7 280.8,358.4" fill="none" stroke="#2a2a2a" stroke-width="1.0"/>
<text x="268.0" y="353.6" font-size="5.8" font-weight="bold" text-anchor="middle" fill="#000" textLength="19.6" lengthAdjust="spacingAndGlyphs" >P=0.03</text>
<text x="233.0" y="431.1" font-size="8.8" font-weight="bold" text-anchor="start" fill="#000" >HO-1<tspan font-size="5.5" dy="-3.2">+/+</tspan></text>
<text x="275.5" y="431.1" font-size="8.8" font-weight="bold" text-anchor="start" fill="#000" >HO-1<tspan font-size="5.5" dy="-3.2">+/-</tspan></text>
<text x="325.6" y="349.6" font-size="14.3" font-weight="bold" text-anchor="start" fill="#000" >G</text>
<text transform="translate(358.4,383.7) rotate(-90)" x="0" y="0" font-size="9.0" font-weight="bold" text-anchor="middle" fill="#000"  textLength="58.1" lengthAdjust="spacingAndGlyphs">Relative WBC</text>
<text transform="translate(369.3,383.2) rotate(-90)" x="0" y="0" font-size="9.0" font-weight="bold" text-anchor="middle" fill="#000"  textLength="51.9" lengthAdjust="spacingAndGlyphs">Recovery %</text>
<text transform="translate(381.2,383.5) rotate(-90)" x="0" y="0" font-size="9.0" font-weight="bold" text-anchor="middle" fill="#000"  textLength="81.3" lengthAdjust="spacingAndGlyphs">(HO-1+/- : HO-1+/+)</text>
<text x="406.3" y="350.5" font-size="8.6" font-weight="bold" text-anchor="end" fill="#000" textLength="16.799999999999997" lengthAdjust="spacingAndGlyphs" stroke="#000" stroke-width="0.3">200</text>
<text x="406.3" y="367.4" font-size="8.6" font-weight="bold" text-anchor="end" fill="#000" textLength="16.799999999999997" lengthAdjust="spacingAndGlyphs" stroke="#000" stroke-width="0.3">150</text>
<text x="406.3" y="383.6" font-size="8.6" font-weight="bold" text-anchor="end" fill="#000" textLength="16.799999999999997" lengthAdjust="spacingAndGlyphs" stroke="#000" stroke-width="0.3">100</text>
<text x="406.3" y="400.5" font-size="8.6" font-weight="bold" text-anchor="end" fill="#000" textLength="11.2" lengthAdjust="spacingAndGlyphs" stroke="#000" stroke-width="0.3">50</text>
<text x="392.6" y="417.9" font-size="8.6" font-weight="bold" text-anchor="start" fill="#000" textLength="5.2" lengthAdjust="spacingAndGlyphs" stroke="#000" stroke-width="0.3">0</text>
<text x="412.2" y="422.0" font-size="8.6" font-weight="bold" text-anchor="middle" fill="#000" textLength="5.6" lengthAdjust="spacingAndGlyphs" stroke="#000" stroke-width="0.3">0</text>
<text x="434.6" y="422.0" font-size="8.6" font-weight="bold" text-anchor="middle" fill="#000" textLength="11.2" lengthAdjust="spacingAndGlyphs" stroke="#000" stroke-width="0.3">10</text>
<text x="459.7" y="422.0" font-size="8.6" font-weight="bold" text-anchor="middle" fill="#000" textLength="11.2" lengthAdjust="spacingAndGlyphs" stroke="#000" stroke-width="0.3">20</text>
<text x="484.4" y="422.0" font-size="8.6" font-weight="bold" text-anchor="middle" fill="#000" textLength="11.2" lengthAdjust="spacingAndGlyphs" stroke="#000" stroke-width="0.3">30</text>
<text x="509.4" y="422.0" font-size="8.6" font-weight="bold" text-anchor="middle" fill="#000" textLength="11.2" lengthAdjust="spacingAndGlyphs" stroke="#000" stroke-width="0.3">40</text>
<text x="449.5" y="432.4" font-size="10" font-weight="bold" text-anchor="start" fill="#000" textLength="23.5" lengthAdjust="spacingAndGlyphs" stroke="#000" stroke-width="0.3">Days</text>
<rect x="408.8" y="344.5" width="101.19999999999999" height="66.80000000000001" fill="none" stroke="#c8c8c8" stroke-width="1.0"/>
<path d="M409.8,377.7 C413,377.6 416,377.4 418.9,377.3 C421.5,377 424,375.8 426.5,374.2 C430,369 432.5,362 435,357.5 C437.5,353 440,348.5 443,347.6 C446,347 448.5,349 451,352 C454,355.5 456.5,358.8 459.5,360.9 C465,364.5 471,367.3 477.2,369.1 C483,370.8 489,371.9 494.9,372.7" fill="none" stroke="#2fd42f" stroke-width="1.9"/>
<path d="M409.8,377.7 C416,377 422,376 428,375.4 C431,375.1 433,375 434.7,375.2 C438,376.5 441,379.5 444,382.5 C447,385.5 449.5,387.3 452.2,387.9 C458,389.5 464,390.8 469.6,390.9 C476,390.6 481,387.8 487.3,387.1 C490,386.9 492.5,386.8 494.9,386.8" fill="none" stroke="#258a62" stroke-width="1.8"/>
<circle cx="418.9" cy="377.3" r="1.3" fill="#2fd42f"/>
<circle cx="426.5" cy="374.2" r="1.3" fill="#2fd42f"/>
<circle cx="443" cy="347.6" r="1.3" fill="#2fd42f"/>
<circle cx="459.5" cy="360.9" r="1.3" fill="#2fd42f"/>
<circle cx="477.2" cy="369.1" r="1.3" fill="#2fd42f"/>
<circle cx="494.9" cy="372.7" r="1.3" fill="#2fd42f"/>
<rect x="408.40000000000003" y="376.3" width="2.8" height="2.8" fill="#258a62"/>
<rect x="433.3" y="373.8" width="2.8" height="2.8" fill="#258a62"/>
<rect x="450.8" y="386.5" width="2.8" height="2.8" fill="#258a62"/>
<rect x="468.20000000000005" y="389.5" width="2.8" height="2.8" fill="#258a62"/>
<rect x="485.90000000000003" y="385.70000000000005" width="2.8" height="2.8" fill="#258a62"/>
<rect x="493.5" y="385.40000000000003" width="2.8" height="2.8" fill="#258a62"/>
<line x1="414.3" y1="398.3" x2="422.5" y2="398.3" stroke="#2fd42f" stroke-width="1.8" />
<circle cx="418" cy="398.3" r="1.2" fill="#2fd42f"/>
<line x1="414.3" y1="407.5" x2="422.5" y2="407.5" stroke="#258a62" stroke-width="1.8" />
<rect x="416.6" y="406.1" width="2.8" height="2.8" fill="#258a62"/>
<text x="423.8" y="400.6" font-size="7.6" font-weight="bold" text-anchor="start" fill="#000" textLength="30" lengthAdjust="spacingAndGlyphs" stroke="#000" stroke-width="0.3">1<tspan font-size="5" dy="-3">st</tspan><tspan dy="3"> 5-FU</tspan></text>
<text x="423.8" y="410.0" font-size="7.6" font-weight="bold" text-anchor="start" fill="#000" textLength="30" lengthAdjust="spacingAndGlyphs" stroke="#000" stroke-width="0.3">4<tspan font-size="5" dy="-3">th</tspan><tspan dy="3"> 5-FU</tspan></text>
</svg>
</body></html>
